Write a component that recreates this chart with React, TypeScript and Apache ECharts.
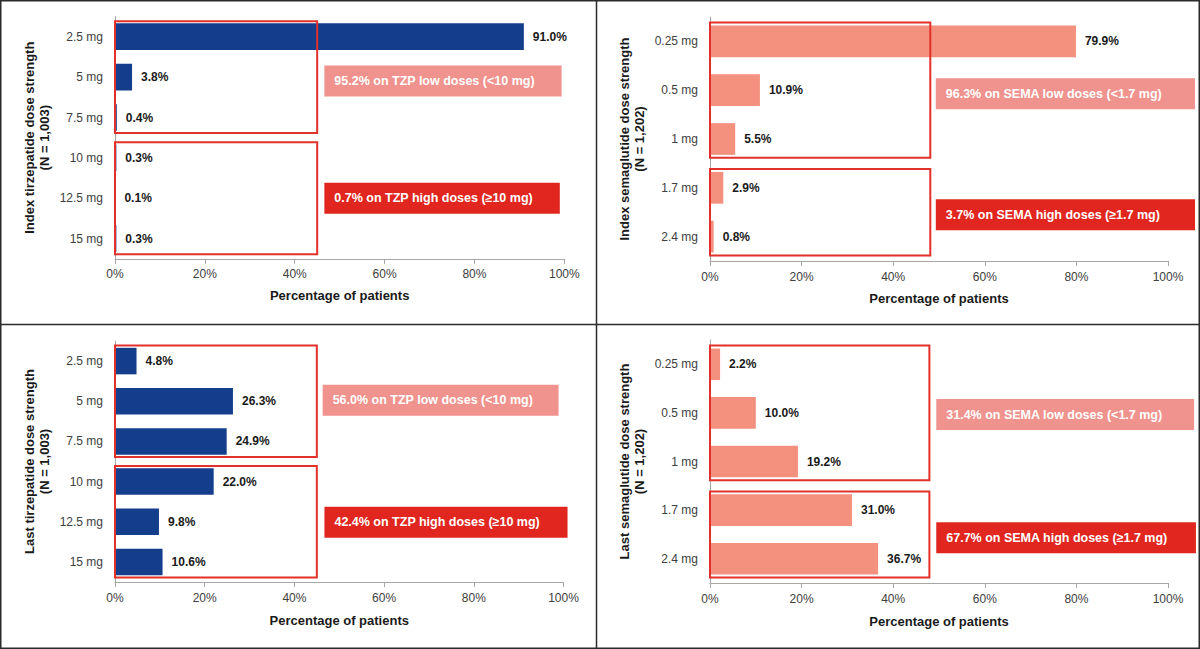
import React, { useEffect, useRef } from "react";
import * as echarts from "echarts";

// ---------- data ----------
const tzpDoses = ["2.5 mg", "5 mg", "7.5 mg", "10 mg", "12.5 mg", "15 mg"];
const semaDoses = ["0.25 mg", "0.5 mg", "1 mg", "1.7 mg", "2.4 mg"];

const indexTzpPct = [91.0, 3.8, 0.4, 0.3, 0.1, 0.3];
const indexSemaPct = [79.9, 10.9, 5.5, 2.9, 0.8];
const lastTzpPct = [4.8, 26.3, 24.9, 22.0, 9.8, 10.6];
const lastSemaPct = [2.2, 10.0, 19.2, 31.0, 36.7];

// category index ranges for low / high dose groups
const tzpGroups = [[0, 2], [3, 5]];
const semaGroups = [[0, 2], [3, 4]];

const indexTzpNotes = ["95.2% on TZP low doses (<10 mg)", "0.7% on TZP high doses (\u226510 mg)"];
const indexSemaNotes = ["96.3% on SEMA low doses (<1.7 mg)", "3.7% on SEMA high doses (\u22651.7 mg)"];
const lastTzpNotes = ["56.0% on TZP low doses (<10 mg)", "42.4% on TZP high doses (\u226510 mg)"];
const lastSemaNotes = ["31.4% on SEMA low doses (<1.7 mg)", "67.7% on SEMA high doses (\u22651.7 mg)"];

const xMin = 0;
const xMax = 100;
const xStep = 20;
const xAxisTitle = "Percentage of patients";

// ---------- styles ----------
const FONT = '"Liberation Sans", Arial, sans-serif';
const NAVY = "#143d8b";
const SALMON = "#f4907e";
const NOTE_LIGHT = "#f0928d";
const NOTE_DARK = "#e0261e";
const BOX_RED = "#e2302b";
const TEXT_DARK = "#1a1a1a";
const TEXT_GRAY = "#404040";
const AXIS_GRAY = "#a6a6a6";

type NoteLayout = { x0: number; x1: number; c0: number; c1: number; dy: number };

const panels = [
  {
    cats: tzpDoses, values: indexTzpPct, groups: tzpGroups, notes: indexTzpNotes,
    yName: "Index tirzepatide dose strength\n(N = 1,003)", color: NAVY,
    grid: { left: 115, top: 16.5, width: 449.3, height: 242.4 },
    boxRight: 45, gap: "34%", nameGap: 30, labelMargin: 9,
    noteLayout: [
      { x0: 46.6, x1: 99.4, c0: 1, c1: 1, dy: 4 },
      { x0: 46.6, x1: 99.0, c0: 4, c1: 4, dy: 0 },
    ] as NoteLayout[],
  },
  {
    cats: semaDoses, values: indexSemaPct, groups: semaGroups, notes: indexSemaNotes,
    yName: "Index semaglutide dose strength\n(N = 1,202)", color: SALMON,
    grid: { left: 710, top: 17, width: 458, height: 244 },
    boxRight: 48.1, gap: "35%", nameGap: 31, labelMargin: 10,
    noteLayout: [
      { x0: 49.3, x1: 105.9, c0: 1, c1: 1, dy: 3.5 },
      { x0: 49.3, x1: 105.9, c0: 3, c1: 4, dy: 2.5 },
    ] as NoteLayout[],
  },
  {
    cats: tzpDoses, values: lastTzpPct, groups: tzpGroups, notes: lastTzpNotes,
    yName: "Last tirzepatide dose strength\n(N = 1,003)", color: NAVY,
    grid: { left: 115, top: 341, width: 448.5, height: 241 },
    boxRight: 45, gap: "34%", nameGap: 32, labelMargin: 10,
    noteLayout: [
      { x0: 46.3, x1: 98.9, c0: 1, c1: 1, dy: -1 },
      { x0: 46.7, x1: 100.9, c0: 4, c1: 4, dy: 0.5 },
    ] as NoteLayout[],
  },
  {
    cats: semaDoses, values: lastSemaPct, groups: semaGroups, notes: lastSemaNotes,
    yName: "Last semaglutide dose strength\n(N = 1,202)", color: SALMON,
    grid: { left: 710, top: 340, width: 458, height: 243 },
    boxRight: 47.9, gap: "35%", nameGap: 32, labelMargin: 10,
    noteLayout: [
      { x0: 49.4, x1: 105.7, c0: 1, c1: 1, dy: 1.6 },
      { x0: 49.4, x1: 106.1, c0: 3, c1: 4, dy: 3.3 },
    ] as NoteLayout[],
  },
];

function buildOption() {
  const grids: any[] = [];
  const xAxes: any[] = [];
  const yAxes: any[] = [];
  const series: any[] = [];

  panels.forEach((p, i) => {
    grids.push({ ...p.grid, containLabel: false });
    xAxes.push({
      type: "value",
      gridIndex: i,
      min: xMin,
      max: xMax,
      interval: xStep,
      name: xAxisTitle,
      nameLocation: "middle",
      nameGap: p.nameGap,
      nameTextStyle: { fontFamily: FONT, fontWeight: "bold", fontSize: 13, color: TEXT_DARK },
      axisLine: { show: true, lineStyle: { color: AXIS_GRAY, width: 1 } },
      axisTick: { show: true, length: 5, lineStyle: { color: AXIS_GRAY } },
      splitLine: { show: false },
      axisLabel: {
        formatter: "{value}%",
        fontFamily: FONT,
        fontSize: 12,
        color: TEXT_GRAY,
        margin: p.labelMargin,
      },
    });
    yAxes.push({
      type: "category",
      gridIndex: i,
      data: p.cats,
      inverse: true,
      name: p.yName,
      nameLocation: "middle",
      nameRotate: 90,
      nameGap: 63,
      nameTextStyle: {
        fontFamily: FONT, fontWeight: "bold", fontSize: 13, color: TEXT_DARK,
        lineHeight: 15, align: "center",
      },
      axisLine: { show: true, lineStyle: { color: AXIS_GRAY, width: 1 } },
      axisTick: { show: false },
      axisLabel: { fontFamily: FONT, fontSize: 12, color: TEXT_GRAY, margin: 12 },
      splitLine: { show: false },
    });

    series.push({
      type: "bar",
      xAxisIndex: i,
      yAxisIndex: i,
      data: p.values,
      barCategoryGap: p.gap,
      itemStyle: { color: p.color },
      label: {
        show: true,
        position: "right",
        distance: 9,
        formatter: (d: any) => Number(d.value).toFixed(1) + "%",
        fontFamily: FONT,
        fontWeight: "bold",
        fontSize: 12,
        color: TEXT_DARK,
      },
      z: 2,
    });

    // group outline boxes
    series.push({
      type: "custom",
      xAxisIndex: i,
      yAxisIndex: i,
      silent: true,
      z: 5,
      data: p.groups.map((g) => [0, p.boxRight, g[0], g[1]]),
      encode: { x: [0, 1], y: [2, 3] },
      renderItem: (_params: any, api: any) => {
        const a = api.coord([api.value(0), api.value(2)]);
        const b = api.coord([api.value(1), api.value(3)]);
        const band = api.size([0, 1])[1];
        const pad = band * 0.385;
        const top = Math.min(a[1], b[1]) - pad;
        const bot = Math.max(a[1], b[1]) + pad;
        return {
          type: "rect",
          shape: { x: a[0], y: top, width: b[0] - a[0], height: bot - top },
          style: { fill: "none", stroke: BOX_RED, lineWidth: 2 },
        };
      },
    });

    // annotation notes
    series.push({
      type: "custom",
      xAxisIndex: i,
      yAxisIndex: i,
      silent: true,
      z: 6,
      data: p.noteLayout.map((n) => [n.x0, n.x1, n.c0, n.c1]),
      encode: { x: [0, 1], y: [2, 3] },
      renderItem: (params: any, api: any) => {
        const idx = params.dataIndex;
        const n = p.noteLayout[idx];
        const a = api.coord([api.value(0), api.value(2)]);
        const b = api.coord([api.value(1), api.value(3)]);
        const cy = (a[1] + b[1]) / 2 + n.dy;
        const h = 31;
        return {
          type: "group",
          children: [
            {
              type: "rect",
              shape: { x: a[0], y: cy - h / 2, width: b[0] - a[0], height: h },
              style: { fill: idx === 0 ? NOTE_LIGHT : NOTE_DARK },
            },
            {
              type: "text",
              x: a[0] + 10,
              y: cy,
              style: {
                text: p.notes[idx],
                fill: "#ffffff",
                fontFamily: FONT,
                fontWeight: "bold",
                fontSize: 12.5,
                verticalAlign: "middle",
                align: "left",
              },
            },
          ],
        };
      },
    });
  });

  return {
    animation: false,
    backgroundColor: "#ffffff",
    textStyle: { fontFamily: FONT },
    grid: grids,
    xAxis: xAxes,
    yAxis: yAxes,
    series,
    graphic: [
      {
        type: "rect",
        shape: { x: 0.75, y: 0.75, width: 1198.5, height: 647.5 },
        style: { fill: "none", stroke: "#2b2b2b", lineWidth: 1.5 },
        silent: true,
      },
      {
        type: "line",
        shape: { x1: 596.5, y1: 0, x2: 596.5, y2: 649 },
        style: { stroke: "#2b2b2b", lineWidth: 1.5 },
        silent: true,
      },
      {
        type: "line",
        shape: { x1: 0, y1: 324.5, x2: 1200, y2: 324.5 },
        style: { stroke: "#2b2b2b", lineWidth: 1.5 },
        silent: true,
      },
    ],
  };
}

export default function App() {
  const ref = useRef<HTMLDivElement>(null);
  useEffect(() => {
    if (!ref.current) return;
    const chart = echarts.init(ref.current, null, { renderer: "svg" });
    chart.setOption(buildOption() as any);
    return () => chart.dispose();
  }, []);
  return (
    <div
      ref={ref}
      style={{ position: "absolute", left: 0, top: 0, width: 1200, height: 649, background: "#fff" }}
    />
  );
}
